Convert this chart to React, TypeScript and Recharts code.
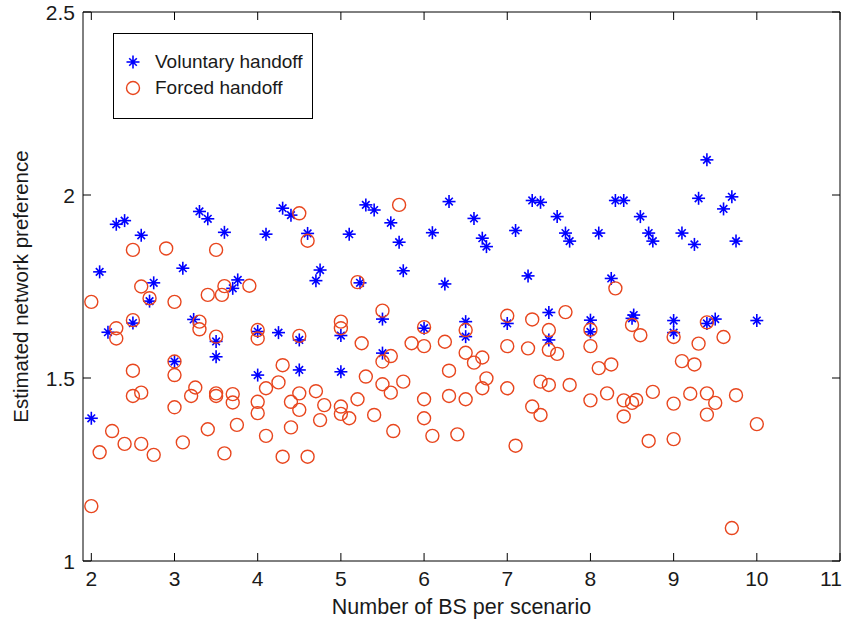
import { ScatterChart, Scatter, XAxis, YAxis } from 'recharts'

// Estimated network preference per scenario size, two handoff types
const xTicks = [2, 3, 4, 5, 6, 7, 8, 9, 10, 11]
const yTicks = [1, 1.5, 2, 2.5]

const voluntaryPoints: [number, number][] = [
  [2.0, 1.39], [2.1, 1.79], [2.2, 1.625], [2.3, 1.92], [2.4, 1.93], [2.5, 1.65],
  [2.6, 1.89], [2.7, 1.71], [2.75, 1.76], [3.0, 1.545], [3.1, 1.8], [3.23, 1.66],
  [3.3, 1.955], [3.4, 1.935], [3.5, 1.6], [3.5, 1.558], [3.6, 1.898], [3.7, 1.745],
  [3.76, 1.768], [4.0, 1.627], [4.0, 1.508], [4.1, 1.893], [4.25, 1.624], [4.3, 1.964],
  [4.4, 1.945], [4.5, 1.604], [4.5, 1.522], [4.6, 1.895], [4.7, 1.766], [4.75, 1.795],
  [5.0, 1.616], [5.0, 1.517], [5.1, 1.893], [5.23, 1.76], [5.3, 1.973], [5.4, 1.959],
  [5.5, 1.661], [5.5, 1.568], [5.6, 1.924], [5.7, 1.871], [5.75, 1.793], [6.0, 1.636],
  [6.1, 1.897], [6.25, 1.757], [6.3, 1.982], [6.5, 1.654], [6.5, 1.613], [6.6, 1.936],
  [6.7, 1.882], [6.75, 1.859], [7.0, 1.649], [7.1, 1.903], [7.25, 1.779], [7.3, 1.985],
  [7.4, 1.98], [7.5, 1.679], [7.5, 1.604], [7.6, 1.941], [7.7, 1.896], [7.75, 1.874],
  [8.0, 1.658], [8.0, 1.626], [8.1, 1.896], [8.25, 1.772], [8.3, 1.985], [8.4, 1.985],
  [8.5, 1.663], [8.52, 1.672], [8.6, 1.941], [8.7, 1.896], [8.75, 1.874], [9.0, 1.657],
  [9.0, 1.624], [9.1, 1.896], [9.25, 1.865], [9.3, 1.991], [9.4, 2.096], [9.4, 1.649],
  [9.5, 1.661], [9.6, 1.962], [9.7, 1.995], [9.75, 1.874], [10.0, 1.657],
]

const forcedPoints: [number, number][] = [
  [2.0, 1.708], [2.0, 1.15], [2.1, 1.297], [2.25, 1.355], [2.3, 1.636], [2.3, 1.608],
  [2.4, 1.32], [2.5, 1.85], [2.5, 1.658], [2.5, 1.52], [2.5, 1.451], [2.6, 1.75],
  [2.6, 1.46], [2.6, 1.32], [2.7, 1.718], [2.75, 1.29], [2.9, 1.854], [3.0, 1.708],
  [3.0, 1.545], [3.0, 1.508], [3.0, 1.42], [3.1, 1.324], [3.2, 1.451], [3.25, 1.474],
  [3.3, 1.654], [3.3, 1.633], [3.4, 1.727], [3.4, 1.36], [3.5, 1.85], [3.5, 1.613],
  [3.5, 1.458], [3.5, 1.451], [3.57, 1.727], [3.6, 1.751], [3.6, 1.294], [3.7, 1.456],
  [3.7, 1.433], [3.75, 1.372], [3.9, 1.752], [4.0, 1.631], [4.0, 1.608], [4.0, 1.435],
  [4.0, 1.404], [4.1, 1.472], [4.1, 1.342], [4.25, 1.488], [4.3, 1.535], [4.3, 1.285],
  [4.4, 1.435], [4.4, 1.365], [4.5, 1.95], [4.5, 1.615], [4.5, 1.458], [4.5, 1.413],
  [4.6, 1.875], [4.6, 1.285], [4.7, 1.464], [4.75, 1.385], [4.8, 1.426], [5.0, 1.654],
  [5.0, 1.636], [5.0, 1.422], [5.0, 1.402], [5.1, 1.39], [5.2, 1.762], [5.2, 1.442],
  [5.25, 1.595], [5.3, 1.504], [5.4, 1.399], [5.5, 1.684], [5.5, 1.545], [5.5, 1.483],
  [5.6, 1.56], [5.6, 1.46], [5.63, 1.355], [5.7, 1.973], [5.75, 1.49], [5.85, 1.595],
  [6.0, 1.639], [6.0, 1.587], [6.0, 1.442], [6.0, 1.39], [6.1, 1.342], [6.25, 1.599],
  [6.3, 1.52], [6.3, 1.451], [6.4, 1.346], [6.5, 1.631], [6.5, 1.569], [6.5, 1.442],
  [6.6, 1.542], [6.7, 1.556], [6.7, 1.472], [6.75, 1.499], [7.0, 1.67], [7.0, 1.587],
  [7.0, 1.472], [7.1, 1.315], [7.25, 1.581], [7.3, 1.66], [7.3, 1.422], [7.4, 1.49],
  [7.4, 1.399], [7.5, 1.631], [7.5, 1.577], [7.5, 1.481], [7.6, 1.566], [7.7, 1.68],
  [7.75, 1.481], [8.0, 1.632], [8.0, 1.587], [8.0, 1.439], [8.1, 1.527], [8.2, 1.458],
  [8.25, 1.537], [8.3, 1.745], [8.4, 1.439], [8.4, 1.395], [8.5, 1.645], [8.5, 1.432],
  [8.55, 1.44], [8.6, 1.617], [8.7, 1.328], [8.75, 1.462], [9.0, 1.612], [9.0, 1.43],
  [9.0, 1.333], [9.1, 1.546], [9.2, 1.457], [9.25, 1.537], [9.3, 1.594], [9.4, 1.652],
  [9.4, 1.458], [9.4, 1.4], [9.5, 1.432], [9.6, 1.612], [9.75, 1.453], [9.7, 1.09],
  [10.0, 1.374],
]

const BLUE = '#0000ff'
const RED = '#e8461e'
const FONT = '"Liberation Sans", Arial, Helvetica, sans-serif'
const TEXT = '#1a1a1a'
const TICK_LEN = 8
const CHART_W = 847

const voluntaryData = voluntaryPoints.map(([x, y]) => ({ x, y }))
const forcedData = forcedPoints.map(([x, y]) => ({ x, y }))

// matlab-style '*' marker: plus with short diagonals
const StarMark = ({ cx, cy }: { cx?: number; cy?: number }) => {
  if (cx == null || cy == null) return null
  const a = 6.5
  const d = 3.8
  return (
    <g stroke={BLUE} strokeWidth={1.6}>
      <line x1={cx - a} y1={cy} x2={cx + a} y2={cy} />
      <line x1={cx} y1={cy - a} x2={cx} y2={cy + a} />
      <line x1={cx - d} y1={cy - d} x2={cx + d} y2={cy + d} />
      <line x1={cx - d} y1={cy + d} x2={cx + d} y2={cy - d} />
      <circle cx={cx} cy={cy} r={2} fill={BLUE} stroke="none" />
    </g>
  )
}

const CircleMark = ({ cx, cy }: { cx?: number; cy?: number }) => {
  if (cx == null || cy == null) return null
  return <circle cx={cx} cy={cy} r={6.5} fill="none" stroke={RED} strokeWidth={1.4} />
}

// ticks point into the plot box on every side
const BottomTick = (props: any) => {
  const { x, y, payload } = props
  // keep the last label inside the canvas
  const lx = Math.min(x, CHART_W - 16)
  return (
    <g>
      <line x1={x} y1={y} x2={x} y2={y - TICK_LEN} stroke="#000" />
      <text x={lx} y={y + 24.5} textAnchor="middle" fontSize={21} fontFamily={FONT} fill={TEXT}>
        {payload.value}
      </text>
    </g>
  )
}

const TopTick = (props: any) => {
  const { x, y } = props
  return <line x1={x} y1={y} x2={x} y2={y + TICK_LEN} stroke="#000" />
}

const LeftTick = (props: any) => {
  const { x, y, payload } = props
  return (
    <g>
      <line x1={x} y1={y} x2={x + TICK_LEN} y2={y} stroke="#000" />
      <text x={x - 8} y={y} dy="0.36em" textAnchor="end" fontSize={21} fontFamily={FONT} fill={TEXT}>
        {payload.value}
      </text>
    </g>
  )
}

const RightTick = (props: any) => {
  const { x, y } = props
  return <line x1={x} y1={y} x2={x - TICK_LEN} y2={y} stroke="#000" />
}

const YTitle = (props: any) => {
  const { viewBox } = props
  const cx = 20
  const cy = viewBox.y + viewBox.height / 2
  return (
    <text
      x={cx}
      y={cy}
      transform={`rotate(-90 ${cx} ${cy})`}
      textAnchor="middle"
      dominantBaseline="central"
      fontSize={20.5}
      fontFamily={FONT}
      fill={TEXT}
    >
      Estimated network preference
    </text>
  )
}

const XTitle = (props: any) => {
  const { viewBox } = props
  const cx = viewBox.x + viewBox.width / 2
  return (
    <text x={cx} y={viewBox.y + 53} textAnchor="middle" fontSize={21.5} fontFamily={FONT} fill={TEXT}>
      Number of BS per scenario
    </text>
  )
}

const LegendBox = () => (
  <div
    style={{
      position: 'absolute',
      left: 113,
      top: 33,
      width: 198,
      height: 84,
      border: '1px solid #000',
      background: '#fff',
      fontFamily: FONT,
      fontSize: 19,
      color: TEXT,
    }}
  >
    {[
      { label: 'Voluntary handoff', Mark: StarMark },
      { label: 'Forced handoff', Mark: CircleMark },
    ].map(({ label, Mark }, i) => (
      <div key={label} style={{ position: 'absolute', left: 0, top: 16 + i * 26, height: 24, display: 'flex', alignItems: 'center' }}>
        <svg width={40} height={24}>
          <Mark cx={19} cy={12} />
        </svg>
        <span style={{ marginLeft: 1 }}>{label}</span>
      </div>
    ))}
  </div>
)

export default function App() {
  return (
    <div style={{ position: 'absolute', left: 0, top: 0, width: CHART_W, height: 623, background: '#fff' }}>
      <ScatterChart width={CHART_W} height={623} margin={{ top: 11, right: 6, bottom: 0, left: 0 }}>
        <XAxis
          xAxisId="bottom"
          dataKey="x"
          type="number"
          domain={[1.9, 11]}
          ticks={xTicks}
          allowDataOverflow
          height={62}
          tickSize={0}
          tickMargin={0}
          tickLine={false}
          axisLine={{ stroke: '#000' }}
          tick={<BottomTick />}
          interval={0}
          label={<XTitle />}
        />
        <XAxis
          xAxisId="top"
          dataKey="x"
          orientation="top"
          type="number"
          domain={[1.9, 11]}
          ticks={xTicks}
          allowDataOverflow
          height={1}
          tickSize={0}
          tickMargin={0}
          tickLine={false}
          axisLine={{ stroke: '#000' }}
          tick={<TopTick />}
          interval={0}
        />
        <YAxis
          yAxisId="left"
          dataKey="y"
          type="number"
          domain={[1, 2.5]}
          ticks={yTicks}
          allowDataOverflow
          width={83}
          tickSize={0}
          tickMargin={0}
          tickLine={false}
          axisLine={{ stroke: '#000' }}
          tick={<LeftTick />}
          interval={0}
          label={<YTitle />}
        />
        <YAxis
          yAxisId="right"
          dataKey="y"
          orientation="right"
          type="number"
          domain={[1, 2.5]}
          ticks={yTicks}
          allowDataOverflow
          width={1}
          tickSize={0}
          tickMargin={0}
          tickLine={false}
          axisLine={{ stroke: '#000' }}
          tick={<RightTick />}
          interval={0}
        />
        <Scatter
          name="Voluntary handoff"
          data={voluntaryData}
          xAxisId="bottom"
          yAxisId="left"
          shape={<StarMark />}
          isAnimationActive={false}
        />
        <Scatter
          name="Forced handoff"
          data={forcedData}
          xAxisId="bottom"
          yAxisId="left"
          shape={<CircleMark />}
          isAnimationActive={false}
        />
      </ScatterChart>
      <LegendBox />
    </div>
  )
}
